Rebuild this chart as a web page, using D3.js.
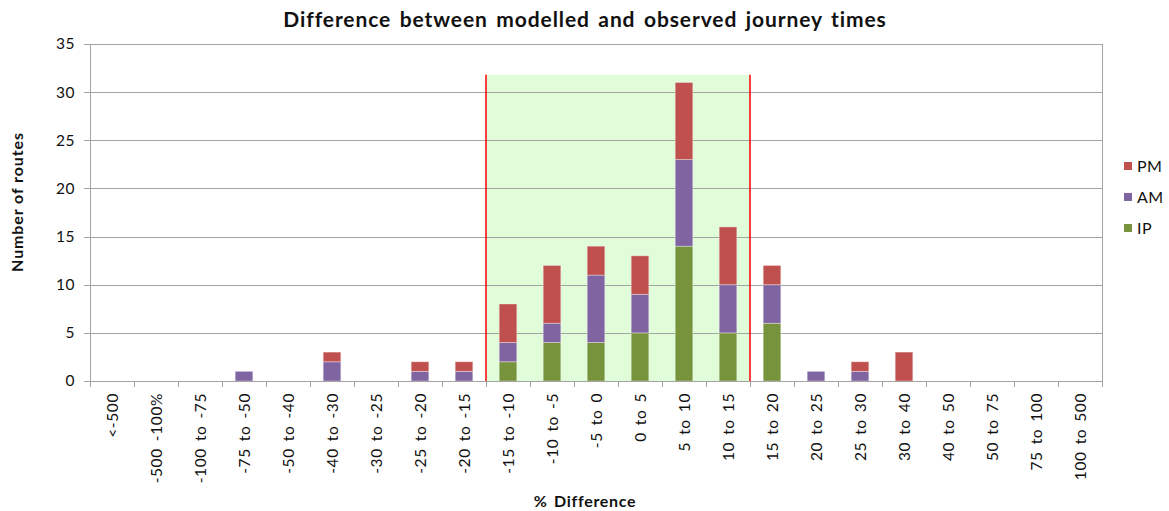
<!DOCTYPE html>
<html>
<head>
<meta charset="utf-8">
<script src="https://cdn.jsdelivr.net/npm/d3@7"></script>
<style>
  html, body { margin: 0; padding: 0; background: #fff; }
  svg { display: block; }
  text { font-family: Lato, "Open Sans", sans-serif; fill: #111; }
</style>
</head>
<body>
<svg id="chart" width="1169" height="511"></svg>
<script>
// Percentage-difference bands (x categories)
const categories = [
  "<-500", "-500 -100%", "-100 to -75", "-75 to -50", "-50 to -40", "-40 to -30",
  "-30 to -25", "-25 to -20", "-20 to -15", "-15 to -10", "-10 to -5", "-5 to 0",
  "0 to 5", "5 to 10", "10 to 15", "15 to 20", "20 to 25", "25 to 30",
  "30 to 40", "40 to 50", "50 to 75", "75 to 100", "100 to 500"
];

// Number of routes per band, by time period (stacked bottom to top: IP, AM, PM)
const ipValues = [0, 0, 0, 0, 0, 0, 0, 0, 0, 2, 4, 4, 5, 14, 5, 6, 0, 0, 0, 0, 0, 0, 0];
const amValues = [0, 0, 0, 1, 0, 2, 0, 1, 1, 2, 2, 7, 4, 9, 5, 4, 1, 1, 0, 0, 0, 0, 0];
const pmValues = [0, 0, 0, 0, 0, 1, 0, 1, 1, 4, 6, 3, 4, 8, 6, 2, 0, 1, 3, 0, 0, 0, 0];

const seriesNames = ["IP", "AM", "PM"];
const seriesColors = { IP: "#77933C", AM: "#8064A2", PM: "#C0504D" };

// Acceptance band (highlighted between the red limits)
const bandStart = "-15 to -10";
const bandEnd = "10 to 15";
const bandHeight = 31.8;

const yTicks = [0, 5, 10, 15, 20, 25, 30, 35];

const svg = d3.select("#chart");
const margin = { left: 90, right: 67, top: 44, bottom: 130 };
const W = 1169, H = 511;
const plotRight = W - margin.right;
const plotBottom = H - margin.bottom;

const x = d3.scaleBand()
  .domain(categories)
  .range([margin.left, plotRight])
  .paddingInner(0.6)
  .paddingOuter(0.3);

const y = d3.scaleLinear()
  .domain([0, 35])
  .range([plotBottom, margin.top]);

const step = x.step();
const slotLeft = c => x(c) - step * x.paddingOuter();
const slotRight = c => slotLeft(c) + step;

// Highlighted band
const bx0 = slotLeft(bandStart), bx1 = slotRight(bandEnd);
svg.append("rect")
  .attr("x", bx0).attr("y", y(bandHeight))
  .attr("width", bx1 - bx0).attr("height", y(0) - y(bandHeight))
  .attr("fill", "#E0FCD9");

// Horizontal gridlines
svg.append("g")
  .selectAll("line")
  .data(yTicks)
  .join("line")
  .attr("x1", margin.left - 6).attr("x2", plotRight)
  .attr("y1", d => Math.round(y(d)) + 0.5).attr("y2", d => Math.round(y(d)) + 0.5)
  .attr("stroke", "#A3A3A3").attr("stroke-width", 1);

// Y axis
const yAxis = d3.axisLeft(y).tickValues(yTicks).tickSize(0).tickPadding(15);
const gy = svg.append("g").attr("transform", `translate(${margin.left},0)`).call(yAxis);
gy.select(".domain").attr("stroke", "#A3A3A3");
gy.selectAll("text")
  .style("font-size", "15.5px")
  .style("letter-spacing", "0.5px")
  .attr("font-family", "Lato, sans-serif")
  .attr("fill", "#222");

// Right border line
svg.append("line")
  .attr("x1", plotRight + 0.5).attr("x2", plotRight + 0.5)
  .attr("y1", y(35)).attr("y2", y(0))
  .attr("stroke", "#A3A3A3");

// Stacked bars
const rows = categories.map((c, i) => ({ cat: c, IP: ipValues[i], AM: amValues[i], PM: pmValues[i] }));
const stack = d3.stack().keys(seriesNames)(rows);

svg.append("g")
  .selectAll("g")
  .data(stack)
  .join("g")
  .attr("fill", d => seriesColors[d.key])
  .selectAll("rect")
  .data(d => d.filter(s => s[1] - s[0] > 0))
  .join("rect")
  .attr("x", d => x(d.data.cat))
  .attr("width", x.bandwidth())
  .attr("y", d => y(d[1]))
  .attr("height", d => y(d[0]) - y(d[1]))
  .attr("stroke", "rgba(255,255,255,0.35)")
  .attr("stroke-width", 1);

// Red limit lines
[bx0, bx1].forEach(xx => {
  svg.append("line")
    .attr("x1", xx).attr("x2", xx)
    .attr("y1", y(bandHeight)).attr("y2", y(0))
    .attr("stroke", "#FF0000").attr("stroke-width", 1.5);
});

// X axis line and boundary ticks
svg.append("line")
  .attr("x1", margin.left).attr("x2", plotRight)
  .attr("y1", Math.round(y(0)) + 0.5).attr("y2", Math.round(y(0)) + 0.5)
  .attr("stroke", "#A3A3A3");
svg.append("g")
  .selectAll("line")
  .data(d3.range(categories.length + 1))
  .join("line")
  .attr("x1", i => Math.round(margin.left + i * step) + 0.5)
  .attr("x2", i => Math.round(margin.left + i * step) + 0.5)
  .attr("y1", y(0)).attr("y2", y(0) + 6)
  .attr("stroke", "#A3A3A3");

// X tick labels (rotated)
svg.append("g")
  .selectAll("text")
  .data(categories)
  .join("text")
  .attr("transform", d => `translate(${x(d) + x.bandwidth() / 2 + 6},${y(0) + 12}) rotate(-90)`)
  .attr("text-anchor", "end")
  .style("font-size", "15.5px")
  .style("letter-spacing", "0.6px")
  .style("word-spacing", "2.5px")
  .attr("fill", "#222")
  .text(d => d);

// Title
svg.append("text")
  .attr("x", 585).attr("y", 27)
  .attr("text-anchor", "middle")
  .style("font-size", "21px").style("font-weight", "bold")
  .style("letter-spacing", "0.9px").style("word-spacing", "2.5px")
  .text("Difference between modelled and observed journey times");

// Axis titles
svg.append("text")
  .attr("transform", `translate(23,202) rotate(-90)`)
  .attr("text-anchor", "middle")
  .style("font-size", "16px").style("font-weight", "bold")
  .style("letter-spacing", "0.9px")
  .text("Number of routes");

svg.append("text")
  .attr("x", 585).attr("y", 507)
  .attr("text-anchor", "middle")
  .style("font-size", "16px").style("font-weight", "bold")
  .style("letter-spacing", "0.7px").style("word-spacing", "2px")
  .text("% Difference");

// Legend (top to bottom: PM, AM, IP)
const legend = svg.append("g").attr("transform", "translate(1124,162)");
seriesNames.slice().reverse().forEach((name, i) => {
  const g = legend.append("g").attr("transform", `translate(0,${i * 31})`);
  g.append("rect").attr("width", 8).attr("height", 8).attr("fill", seriesColors[name]);
  g.append("text").attr("x", 13).attr("y", 10)
    .style("font-size", "16px").style("letter-spacing", "0.5px")
    .attr("fill", "#222").text(name);
});
</script>
</body>
</html>
